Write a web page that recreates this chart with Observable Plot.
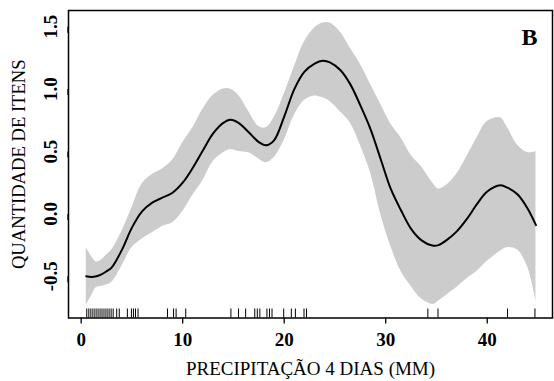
<!DOCTYPE html>
<html>
<head>
<meta charset="utf-8">
<script src="https://cdn.jsdelivr.net/npm/d3@7"></script>
<script src="https://cdn.jsdelivr.net/npm/@observablehq/plot@0.6"></script>
<style>
  body { margin: 0; background: #fff; }
  #chart svg { display: block; }
</style>
</head>
<body>
<div id="chart"></div>
<script>
// Smooth (GAM) fit of item quantity vs 4-day precipitation, with confidence band
const precip = [0.5, 1, 1.5, 2, 2.5, 3, 4, 5, 6, 7, 8, 9, 10, 11, 12, 13, 14, 14.7, 15.5, 16.5, 17.5, 18.2, 19, 20, 21, 22, 23, 23.8, 24.5, 25.5, 26.5, 27.5, 28.5, 29.5, 30.5, 31.5, 32.5, 33.5, 34.7, 35.2, 36, 37, 38, 39, 40, 41.3, 42, 43, 44, 44.8];
const fitValues = [-0.50, -0.505, -0.50, -0.485, -0.46, -0.43, -0.29, -0.11, 0.02, 0.09, 0.13, 0.17, 0.25, 0.37, 0.51, 0.645, 0.73, 0.755, 0.73, 0.655, 0.575, 0.55, 0.59, 0.78, 1.0, 1.14, 1.205, 1.228, 1.215, 1.155, 1.04, 0.87, 0.68, 0.44, 0.20, 0.03, -0.12, -0.21, -0.255, -0.25, -0.21, -0.14, -0.04, 0.08, 0.18, 0.23, 0.21, 0.155, 0.04, -0.09];
const upperValues = [-0.27, -0.34, -0.385, -0.37, -0.33, -0.29, -0.14, 0.05, 0.24, 0.315, 0.36, 0.43, 0.57, 0.69, 0.84, 0.95, 1.0, 1.0, 0.95, 0.82, 0.70, 0.69, 0.77, 0.96, 1.18, 1.38, 1.49, 1.53, 1.53, 1.46, 1.33, 1.2, 1.04, 0.88, 0.72, 0.61, 0.47, 0.38, 0.24, 0.20, 0.23, 0.32, 0.46, 0.61, 0.74, 0.77, 0.69, 0.55, 0.49, 0.50];
const lowerValues = [-0.73, -0.66, -0.59, -0.58, -0.57, -0.55, -0.42, -0.27, -0.2, -0.15, -0.10, -0.07, 0.02, 0.15, 0.27, 0.42, 0.49, 0.515, 0.50, 0.49, 0.44, 0.41, 0.45, 0.59, 0.79, 0.91, 0.945, 0.93, 0.90, 0.82, 0.73, 0.55, 0.33, 0.0, -0.26, -0.46, -0.58, -0.68, -0.725, -0.70, -0.65, -0.59, -0.52, -0.46, -0.38, -0.30, -0.27, -0.29, -0.43, -0.70];
// Observations (rug)
const rugValues = [0.55, 0.75, 0.95, 1.15, 1.35, 1.55, 1.75, 1.95, 2.15, 2.35, 2.55, 2.75, 2.95, 3.15, 3.5, 3.75, 4.55, 4.95, 5.15, 5.35, 5.6, 8.5, 9.1, 9.35, 10.3, 14.75, 15.5, 16.2, 17.1, 17.35, 17.6, 18.3, 18.55, 18.8, 19.95, 20.7, 21.1, 21.95, 22.2, 34.15, 35.15, 42.0, 44.7];
const xTicks = [0, 10, 20, 30, 40];
const yTicks = [-0.5, 0, 0.5, 1.0, 1.5];
const xTitle = "PRECIPITAÇÃO 4 DIAS (MM)";
const yTitle = "QUANTIDADE DE ITENS";
const panelLabel = "B";

const data = precip.map((x, i) => ({x, fit: fitValues[i], upper: upperValues[i], lower: lowerValues[i]}));

const chart = Plot.plot({
  width: 554,
  height: 381,
  marginLeft: 68,
  marginRight: 2,
  marginTop: 10,
  marginBottom: 63.5,
  style: {fontFamily: "'Liberation Serif', 'Times New Roman', serif", background: "white", color: "black"},
  x: {domain: [-1.25, 46.43]},
  y: {domain: [-0.834, 1.63]},
  marks: [
    Plot.areaY(data, {x: "x", y1: "lower", y2: "upper", fill: "#cccccc", curve: "catmull-rom"}),
    Plot.line(data, {x: "x", y: "fit", stroke: "black", strokeWidth: 2, curve: "catmull-rom"}),
    Plot.ruleX(rugValues, {x: d => d, insetTop: 298.5, stroke: "#000", strokeWidth: 1}),
    Plot.frame({stroke: "black", strokeWidth: 1.5}),
    Plot.axisX({ticks: xTicks, tickSize: 6, tickPadding: 8, fontSize: 19, fontWeight: "bold", label: null, strokeWidth: 1.3}),
    Plot.axisY({ticks: yTicks, tickFormat: d => d.toFixed(1), tickSize: 6, tickPadding: 12, rotate: -90, textAnchor: "middle", fontSize: 19, fontWeight: "bold", label: null, strokeWidth: 1.3}),
    Plot.text([xTitle], {text: d => d, frameAnchor: "bottom", dy: 57, lineAnchor: "bottom", fontSize: 19}),
    Plot.text([yTitle], {text: d => d, frameAnchor: "left", dx: -49, rotate: -90, textAnchor: "middle", lineAnchor: "middle", fontSize: 18.6}),
    Plot.text([panelLabel], {text: d => d, frameAnchor: "top-right", dx: -15, dy: 17, textAnchor: "end", lineAnchor: "top", fontSize: 24, fontWeight: "bold"})
  ]
});
document.getElementById("chart").appendChild(chart);
</script>
</body>
</html>
